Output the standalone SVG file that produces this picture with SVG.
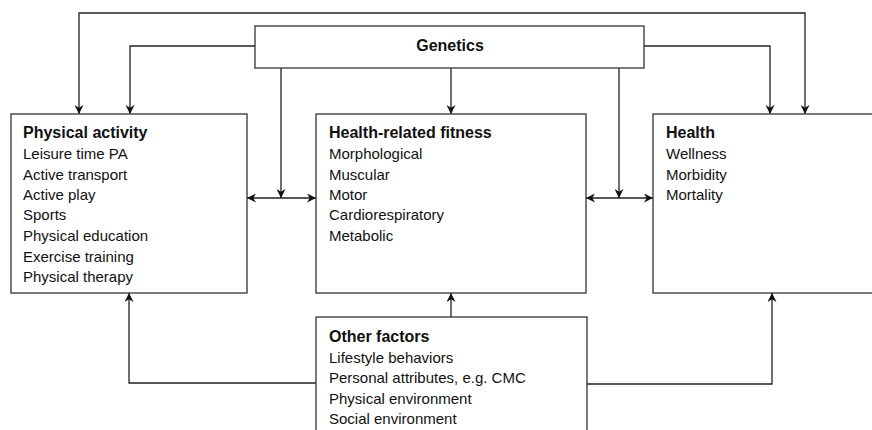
<svg xmlns="http://www.w3.org/2000/svg" width="872" height="430" viewBox="0 0 872 430">
<style>
.box{fill:#fff;stroke:#333;stroke-width:1.3}
.ln{fill:none;stroke:#222;stroke-width:1.3}
text{font-family:"Liberation Sans",Arial,sans-serif;fill:#111}
.t{font-weight:bold;font-size:16px}
.i{font-size:15px}
</style>
<defs>
<marker id="ah" viewBox="0 0 10 10" refX="10" refY="5" markerWidth="9" markerHeight="9" markerUnits="userSpaceOnUse" orient="auto-start-reverse">
<path d="M0,0 L10,5 L0,10 L3,5 z" fill="#111"/>
</marker>
</defs>
<g id="connectors">
<path class="ln" d="M79,114 V13 H805 V114" marker-start="url(#ah)" marker-end="url(#ah)"/>
<path class="ln" d="M255,46 H130 V114" marker-end="url(#ah)"/>
<path class="ln" d="M644,46 H770 V114" marker-end="url(#ah)"/>
<path class="ln" d="M451,68 V114" marker-end="url(#ah)"/>
<path class="ln" d="M281,68 V198" marker-end="url(#ah)"/>
<path class="ln" d="M619,68 V198" marker-end="url(#ah)"/>
<path class="ln" d="M247,198 H316" marker-start="url(#ah)" marker-end="url(#ah)"/>
<path class="ln" d="M586,198 H653" marker-start="url(#ah)" marker-end="url(#ah)"/>
<path class="ln" d="M451,317 V293" marker-end="url(#ah)"/>
<path class="ln" d="M316,383 H129 V293" marker-end="url(#ah)"/>
<path class="ln" d="M587,384 H772 V293" marker-end="url(#ah)"/>
</g>
<g id="genetics">
<rect class="box" x="255" y="26" width="389" height="42"/>
<text class="t" x="450" y="51" text-anchor="middle">Genetics</text>
</g>
<g id="physical-activity">
<rect class="box" x="11" y="114" width="236" height="179"/>
<text class="t" x="23" y="138">Physical activity</text>
<text class="i" x="23" y="159">Leisure time PA</text>
<text class="i" x="23" y="180">Active transport</text>
<text class="i" x="23" y="200">Active play</text>
<text class="i" x="23" y="220">Sports</text>
<text class="i" x="23" y="241">Physical education</text>
<text class="i" x="23" y="262">Exercise training</text>
<text class="i" x="23" y="282">Physical therapy</text>
</g>
<g id="health-related-fitness">
<rect class="box" x="316" y="114" width="270" height="179"/>
<text class="t" x="329" y="138">Health-related fitness</text>
<text class="i" x="329" y="159">Morphological</text>
<text class="i" x="329" y="180">Muscular</text>
<text class="i" x="329" y="200">Motor</text>
<text class="i" x="329" y="220">Cardiorespiratory</text>
<text class="i" x="329" y="241">Metabolic</text>
</g>
<g id="health">
<rect class="box" x="653" y="114" width="230" height="179"/>
<text class="t" x="666" y="138">Health</text>
<text class="i" x="666" y="159">Wellness</text>
<text class="i" x="666" y="180">Morbidity</text>
<text class="i" x="666" y="200">Mortality</text>
</g>
<g id="other-factors">
<rect class="box" x="316" y="317" width="271" height="125"/>
<text class="t" x="329" y="342">Other factors</text>
<text class="i" x="329" y="363">Lifestyle behaviors</text>
<text class="i" x="329" y="383">Personal attributes, e.g. CMC</text>
<text class="i" x="329" y="404">Physical environment</text>
<text class="i" x="329" y="424">Social environment</text>
</g>
</svg>
